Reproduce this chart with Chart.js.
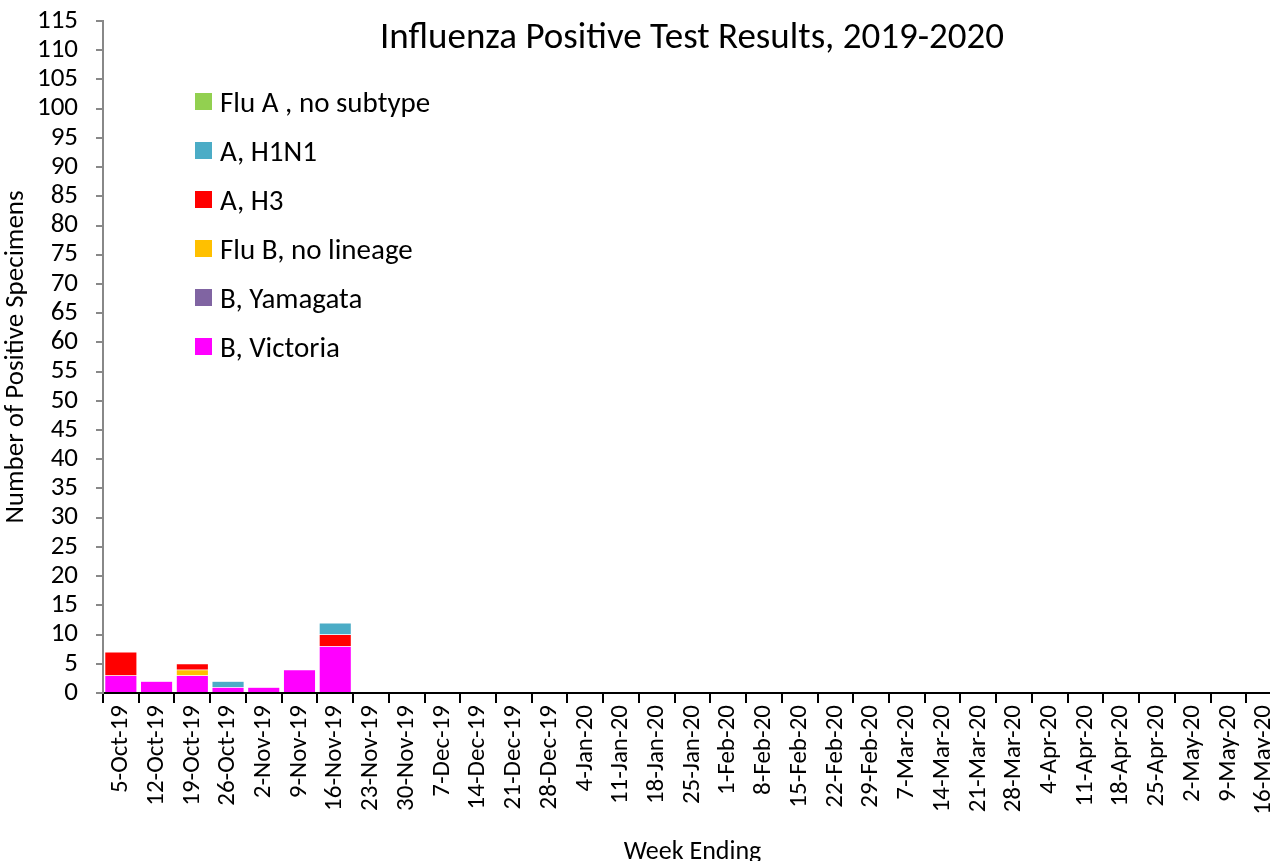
<!DOCTYPE html>
<html>
<head>
<meta charset="utf-8">
<script src="https://cdn.jsdelivr.net/npm/chart.js@4"></script>
<style>
  html, body { margin: 0; padding: 0; background: #fff; overflow: hidden; }
  #wrap { position: relative; width: 1282px; height: 861px; }
  #title { position: absolute; left: 103px; width: 1178px; top: 13px; text-align: center; line-height: 44px;
           font: 37px Calibri, Carlito, "Open Sans", sans-serif; color: #000; }
  #legend { position: absolute; left: 195px; top: 77px; font: 29px Calibri, Carlito, "Open Sans", sans-serif; color: #000; }
  #legend div { height: 49px; display: flex; align-items: center; }
  #legend span.box { display: inline-block; width: 17px; height: 17px; margin: 0 8px 0 0; }
</style>
</head>
<body>
<div id="wrap">
  <canvas id="chart" width="1282" height="861"></canvas>
  <div id="title">Influenza Positive Test Results, 2019-2020</div>
  <div id="legend"></div>
</div>
<script>
// weekly categories, week ending
const weeks = ['5-Oct-19', '12-Oct-19', '19-Oct-19', '26-Oct-19', '2-Nov-19', '9-Nov-19', '16-Nov-19',
  '23-Nov-19', '30-Nov-19', '7-Dec-19', '14-Dec-19', '21-Dec-19', '28-Dec-19', '4-Jan-20', '11-Jan-20',
  '18-Jan-20', '25-Jan-20', '1-Feb-20', '8-Feb-20', '15-Feb-20', '22-Feb-20', '29-Feb-20', '7-Mar-20',
  '14-Mar-20', '21-Mar-20', '28-Mar-20', '4-Apr-20', '11-Apr-20', '18-Apr-20', '25-Apr-20', '2-May-20',
  '9-May-20', '16-May-20'];

// counts per week (first 7 weeks have data, rest are zero)
const bVictoria  = [3, 2, 3, 1, 1, 4, 8, 0, 0, 0, 0, 0, 0, 0, 0, 0, 0, 0, 0, 0, 0, 0, 0, 0, 0, 0, 0, 0, 0, 0, 0, 0, 0];
const bYamagata  = [0, 0, 0, 0, 0, 0, 0, 0, 0, 0, 0, 0, 0, 0, 0, 0, 0, 0, 0, 0, 0, 0, 0, 0, 0, 0, 0, 0, 0, 0, 0, 0, 0];
const fluBNoLin  = [0, 0, 1, 0, 0, 0, 0, 0, 0, 0, 0, 0, 0, 0, 0, 0, 0, 0, 0, 0, 0, 0, 0, 0, 0, 0, 0, 0, 0, 0, 0, 0, 0];
const aH3        = [4, 0, 1, 0, 0, 0, 2, 0, 0, 0, 0, 0, 0, 0, 0, 0, 0, 0, 0, 0, 0, 0, 0, 0, 0, 0, 0, 0, 0, 0, 0, 0, 0];
const aH1N1      = [0, 0, 0, 1, 0, 0, 2, 0, 0, 0, 0, 0, 0, 0, 0, 0, 0, 0, 0, 0, 0, 0, 0, 0, 0, 0, 0, 0, 0, 0, 0, 0, 0];
const fluANoSub  = [0, 0, 0, 0, 0, 0, 0, 0, 0, 0, 0, 0, 0, 0, 0, 0, 0, 0, 0, 0, 0, 0, 0, 0, 0, 0, 0, 0, 0, 0, 0, 0, 0];

const yMin = 0, yMax = 115, yStep = 5;

// bottom of stack first
const series = [
    { label: 'B, Victoria', data: bVictoria, color: '#FF00FF' },
    { label: 'B, Yamagata', data: bYamagata, color: '#8064A2' },
    { label: 'Flu B, no lineage', data: fluBNoLin, color: '#FFC000' },
    { label: 'A, H3', data: aH3, color: '#FF0000' },
    { label: 'A, H1N1', data: aH1N1, color: '#4BACC6' },
    { label: 'Flu A , no subtype', data: fluANoSub, color: '#92D050' },
];

const font = 'Calibri, Carlito, "Open Sans", sans-serif';

// html legend, top of stack listed first
const legendEl = document.getElementById('legend');
series.slice().reverse().forEach(function(s) {
    const row = document.createElement('div');
    const box = document.createElement('span');
    box.className = 'box';
    box.style.background = s.color;
    row.appendChild(box);
    row.appendChild(document.createTextNode(s.label));
    legendEl.appendChild(row);
});

const ctx = document.getElementById('chart');
new Chart(ctx, {
    type: 'bar',
    data: {
        labels: weeks,
        datasets: series.map(function(s) {
            return {
                label: s.label,
                data: s.data,
                backgroundColor: s.color,
                borderColor: 'rgba(255,255,255,0.6)',
                borderWidth: 0.5,
                barPercentage: 0.9,
                categoryPercentage: 1.0
            };
        })
    },
    options: {
        responsive: false,
        animation: false,
        layout: { padding: { top: 21, left: 0, right: 0, bottom: 0 } },
        plugins: {
            legend: { display: false },
            title: { display: false },
            tooltip: { enabled: false }
        },
        scales: {
            x: {
                stacked: true,
                grid: { drawOnChartArea: false, offset: true, tickLength: 10, color: '#000', lineWidth: 2 },
                border: { color: '#000', width: 2 },
                ticks: { color: '#000', font: { family: font, size: 25 }, minRotation: 90, maxRotation: 90, autoSkip: false, padding: 2 },
                title: { display: true, text: 'Week Ending', color: '#000', font: { family: font, size: 26 }, padding: { top: 0, bottom: -7 } },
                afterFit: function(scale) {
                    scale.height = 168;
                    scale.paddingLeft = 0;
                    scale.paddingRight = 0;
                }
            },
            y: {
                stacked: true,
                min: yMin,
                max: yMax,
                grid: { drawOnChartArea: false, tickLength: 7, color: '#888', lineWidth: 2 },
                border: { color: '#888', width: 2 },
                ticks: { stepSize: yStep, autoSkip: false, color: '#000', font: { family: font, size: 27 }, padding: 18 },
                title: { display: true, text: 'Number of Positive Specimens', color: '#000', font: { family: font, size: 27 }, padding: { top: 0, bottom: 4 } },
                afterFit: function(scale) {
                    scale.width = 103;
                    scale.paddingTop = 0;
                    scale.paddingBottom = 0;
                }
            }
        }
    }
});
</script>
</body>
</html>
